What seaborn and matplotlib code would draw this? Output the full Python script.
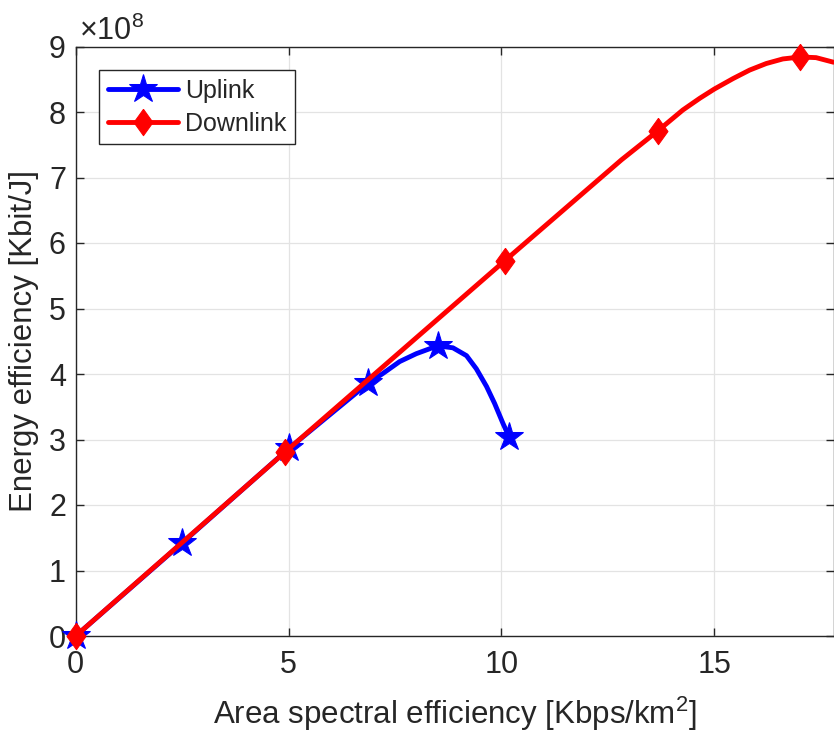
import matplotlib
matplotlib.use("Agg")
import matplotlib.pyplot as plt
import seaborn as sns
import pandas as pd
from matplotlib.ticker import FuncFormatter

# ---- data (energy efficiency in Kbit/J) ----
uplink_x = [0.0, 2.49, 5.02, 6.87, 7.22, 7.61, 8.0, 8.5, 8.86, 9.18, 9.41, 9.65, 9.84, 10.04, 10.18]
uplink_y = [0.0, 1.415e8, 2.87e8, 3.86e8, 4.01e8, 4.19e8, 4.31e8, 4.43e8, 4.40e8, 4.28e8,
            4.08e8, 3.81e8, 3.55e8, 3.24e8, 3.04e8]
uplink_markers = [0, 1, 2, 3, 7, 14]

downlink_x = [0.0, 4.92, 10.08, 12.82, 13.67, 14.26, 14.66, 15.0, 15.44, 15.83, 16.22,
              16.61, 17.02, 17.39, 17.8]
downlink_y = [0.0, 2.81e8, 5.73e8, 7.27e8, 7.71e8, 8.03e8, 8.21e8, 8.35e8, 8.51e8, 8.64e8,
              8.74e8, 8.81e8, 8.84e8, 8.83e8, 8.76e8]
downlink_markers = [0, 1, 2, 4, 12]

x_ticks = [0, 5, 10, 15]
y_ticks = [0, 1e8, 2e8, 3e8, 4e8, 5e8, 6e8, 7e8, 8e8, 9e8]

sns.set_theme(style="white")
plt.rcParams['font.family'] = ['Liberation Sans', 'DejaVu Sans']
plt.rcParams['mathtext.fontset'] = 'custom'
plt.rcParams['mathtext.rm'] = 'Liberation Sans'
plt.rcParams['mathtext.it'] = 'Liberation Sans'

fig = plt.figure(figsize=(8.34, 7.36), dpi=100)
W, H = 834, 736
left, right, top, bottom = 75.7, 833.5, 46.5, 636.0
ax = fig.add_axes([left / W, 1 - bottom / H, (right - left) / W, (bottom - top) / H])

up_df = pd.DataFrame({"x": uplink_x, "y": uplink_y})
dn_df = pd.DataFrame({"x": downlink_x, "y": downlink_y})

diamond = [(0, 1), (0.72, 0), (0, -1), (-0.72, 0), (0, 1)]

sns.lineplot(data=up_df, x="x", y="y", ax=ax, sort=False, estimator=None,
             color="#0000ff", lw=3.5, marker="*", markersize=21,
             markeredgecolor="#0000ff", markevery=uplink_markers, label="Uplink",
             clip_on=False)
sns.lineplot(data=dn_df, x="x", y="y", ax=ax, sort=False, estimator=None,
             color="#ff0000", lw=3.5, marker=diamond, markersize=19,
             markeredgecolor="#ff0000", markevery=downlink_markers, label="Downlink",
             clip_on=False)

ax.set_xlim(0, 17.8)
ax.set_ylim(0, 9e8)
ax.set_xticks(x_ticks)
ax.set_yticks(y_ticks)
ax.yaxis.set_major_formatter(FuncFormatter(lambda v, p: f"{v/1e8:g}"))

ax.grid(True, color="#e3e3e3", lw=0.9)
ax.set_axisbelow(True)
for s in ax.spines.values():
    s.set_color("#262626")
    s.set_linewidth(1.0)
    s.set_visible(True)
    s.set_zorder(1.5)

ax.tick_params(axis="both", which="both", direction="in", length=5.5, width=1.0,
               color="#262626", labelsize=22, labelcolor="#262626",
               top=True, right=True, bottom=True, left=True)
ax.tick_params(axis="x", pad=10)
ax.tick_params(axis="y", pad=7)

ax.set_xlabel("Area spectral efficiency [Kbps/km$^2$]", fontsize=22.5, color="#262626", labelpad=11)
ax.set_ylabel("Energy efficiency [Kbit/J]", fontsize=22.5, color="#262626", labelpad=7)

fig.text(79 / W, 1 - 40 / H, r"$\times10^{8}$", fontsize=22, color="#262626",
         ha="left", va="baseline")

leg = ax.legend(loc="upper left", bbox_to_anchor=(0.0307, 0.960), borderaxespad=0,
                fontsize=18, frameon=True, fancybox=False, framealpha=1,
                edgecolor="#262626", handlelength=2.8, handletextpad=0.3,
                borderpad=0.35, labelspacing=0.35)
leg.get_frame().set_linewidth(1.0)

fig.savefig("out.png", dpi=100)
